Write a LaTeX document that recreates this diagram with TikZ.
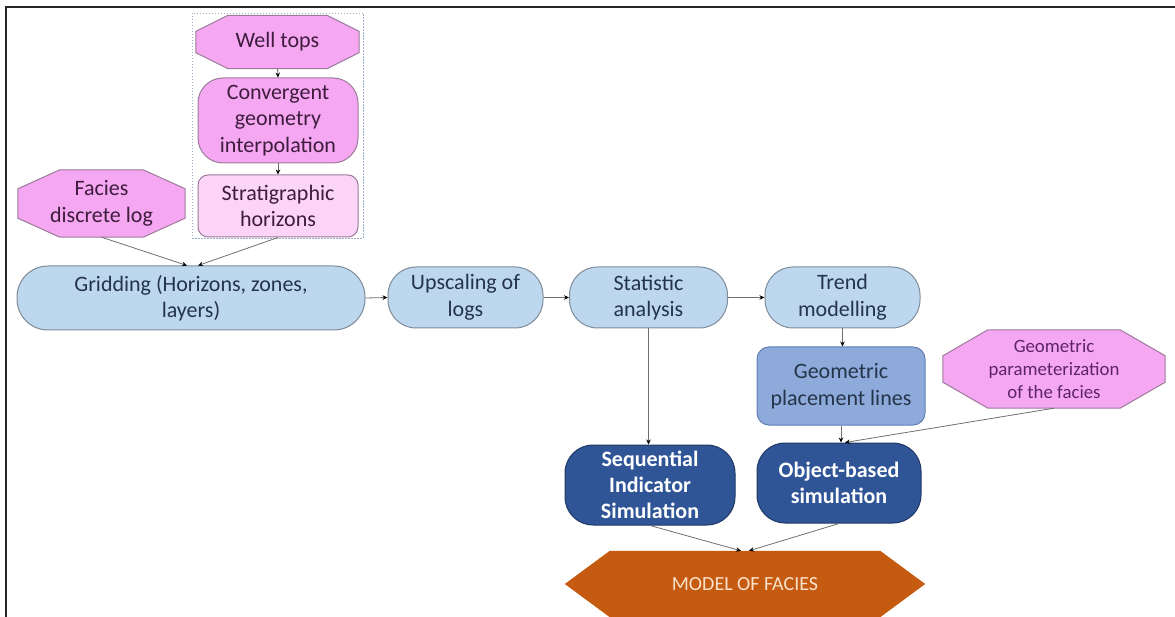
\documentclass[tikz,border=0pt]{standalone}
\usepackage{fontspec}
\setmainfont{Carlito}
\usetikzlibrary{arrows.meta,backgrounds,calc}
\definecolor{pinkf}{HTML}{F5A8F1}
\definecolor{pinkl}{HTML}{FBD4F8}
\definecolor{pinkb}{HTML}{9C7A9A}
\definecolor{pinkt}{HTML}{3E1C3E}
\definecolor{bluel}{HTML}{BDD7EE}
\definecolor{blueb}{HTML}{7F8C99}
\definecolor{bluet}{HTML}{24344A}
\definecolor{bluem}{HTML}{8EAADB}
\definecolor{bluemb}{HTML}{5F7FB5}
\definecolor{blued}{HTML}{2F5597}
\definecolor{bluedb}{HTML}{203864}
\definecolor{orangef}{HTML}{C55A11}
\definecolor{oranget}{HTML}{FBE2CB}
\definecolor{paramt}{HTML}{5E2468}
\definecolor{groupc}{HTML}{9DB0C8}
\definecolor{linec}{HTML}{6F6F6F}
\tikzset{
  base/.style={inner sep=0pt, align=center, font=\fontsize{22}{26.5}\selectfont},
  pinkoct/.style={base, text=pinkt},
  roundpink/.style={base, draw=pinkb, line width=1pt, fill=pinkf, text=pinkt, rounded corners=25pt},
  stratbox/.style={base, draw=pinkb, line width=1pt, fill=pinkl, text=pinkt, rounded corners=10pt},
  lightblue/.style={base, draw=blueb, line width=1pt, fill=bluel, text=bluet, rounded corners=28pt},
  midblue/.style={base, draw=bluemb, line width=1pt, fill=bluem, text=bluet, rounded corners=12pt},
  darkblue/.style={base, draw=bluedb, line width=1pt, fill=blued, text=white, rounded corners=28pt, font=\fontsize{22}{26}\selectfont\bfseries},
  octfill/.style={draw=pinkb, line width=1pt, fill=pinkf},
  conn/.style={draw=linec, line width=0.8pt, -{Stealth[length=5pt,width=4.5pt,color=black]}},
}
\begin{document}
\begin{tikzpicture}[x=1pt,y=-1pt]
\useasboundingbox (0,0) rectangle (1175,617);
% frame
\draw[line width=2pt, black!85] (1175,7) -- (6,7) -- (6,617);
% group box
\draw[groupc, line width=0.9pt, dash pattern=on 1.5pt off 1.5pt] (192,13) rectangle (363,238);

% nodes
\node[pinkoct, minimum width=163pt, minimum height=53pt] (wt) at (277.5,42) {Well tops};
\node[roundpink, minimum width=160pt, minimum height=85pt] (cgi) at (278,120.5) {Convergent\\geometry\\interpolation};
\node[stratbox, minimum width=160pt, minimum height=62pt] (sh) at (278,206) {Stratigraphic\\horizons};
\node[pinkoct, minimum width=167pt, minimum height=67pt] (fdl) at (101.5,203.5) {Facies\\discrete log};
\node[lightblue, minimum width=348pt, minimum height=64pt, rounded corners=31pt] (grid) at (191,298) {Gridding (Horizons, zones,\\layers)};
\node[lightblue, minimum width=155pt, minimum height=61pt] (ups) at (465.5,297.5) {Upscaling of\\logs};
\node[lightblue, minimum width=158pt, minimum height=61pt] (stat) at (648.5,297.5) {Statistic\\analysis};
\node[lightblue, minimum width=155pt, minimum height=61pt] (trend) at (842.5,297.5) {Trend\\modelling};
\node[midblue, minimum width=168pt, minimum height=78pt] (gpl) at (841,386) {Geometric\\placement lines};
\node[pinkoct, text=paramt, minimum width=222pt, minimum height=78pt, font=\fontsize{18.8}{23}\selectfont] (gpf) at (1054,369) {Geometric\\parameterization\\of the facies};
\node[darkblue, minimum width=170pt, minimum height=80pt] (sis) at (650,485) {Sequential\\Indicator\\Simulation};
\node[darkblue, minimum width=164pt, minimum height=80pt] (obs) at (839,483) {Object-based\\simulation};
\node[base, text=oranget, minimum width=360pt, minimum height=66pt, font=\fontsize{20}{24}\selectfont] (mof) at (745,584) {MODEL OF FACIES};

% custom shapes behind the text
\begin{scope}[on background layer]
\path[octfill] ([xshift=32pt]wt.north west) -- ([xshift=-32pt]wt.north east) -- ([yshift=-16pt]wt.north east) -- ([yshift=16pt]wt.south east) -- ([xshift=-32pt]wt.south east) -- ([xshift=32pt]wt.south west) -- ([yshift=16pt]wt.south west) -- ([yshift=-16pt]wt.north west) -- cycle;
\path[octfill] ([xshift=42pt]fdl.north west) -- ([xshift=-42pt]fdl.north east) -- ([yshift=-19pt]fdl.north east) -- ([yshift=19pt]fdl.south east) -- ([xshift=-42pt]fdl.south east) -- ([xshift=42pt]fdl.south west) -- ([yshift=19pt]fdl.south west) -- ([yshift=-19pt]fdl.north west) -- cycle;
\path[octfill] ([xshift=45pt]gpf.north west) -- ([xshift=-45pt]gpf.north east) -- ([yshift=-26pt]gpf.north east) -- ([yshift=26pt]gpf.south east) -- ([xshift=-45pt]gpf.south east) -- ([xshift=45pt]gpf.south west) -- ([yshift=26pt]gpf.south west) -- ([yshift=-26pt]gpf.north west) -- cycle;
\path[fill=orangef] ([xshift=45pt]mof.north west) -- ([xshift=-45pt]mof.north east) -- (mof.east) -- ([xshift=-45pt]mof.south east) -- ([xshift=45pt]mof.south west) -- (mof.west) -- cycle;
\end{scope}

% connectors
\draw[conn] (wt.south) -- (cgi.north);
\draw[conn] (cgi.south) -- (sh.north);
\draw[conn] (fdl.south) -- ([xshift=-4pt]grid.north);
\draw[conn] (sh.south) -- ([xshift=7pt]grid.north);
\draw[conn] (grid.east) -- (ups.west);
\draw[conn] (ups.east) -- (stat.west);
\draw[conn] (stat.east) -- (trend.west);
\draw[conn] (trend.south) -- (trend.south |- gpl.north);
\draw[conn] (stat.south) -- (stat.south |- sis.north);
\draw[conn] (gpl.south) -- (gpl.south |- obs.north);
\draw[conn] (gpf.south) -- ([xshift=6pt]obs.north);
\draw[conn] (sis.south) -- ([xshift=-4pt]mof.north);
\draw[conn] (obs.south) -- ([xshift=4pt]mof.north);
\end{tikzpicture}
\end{document}
